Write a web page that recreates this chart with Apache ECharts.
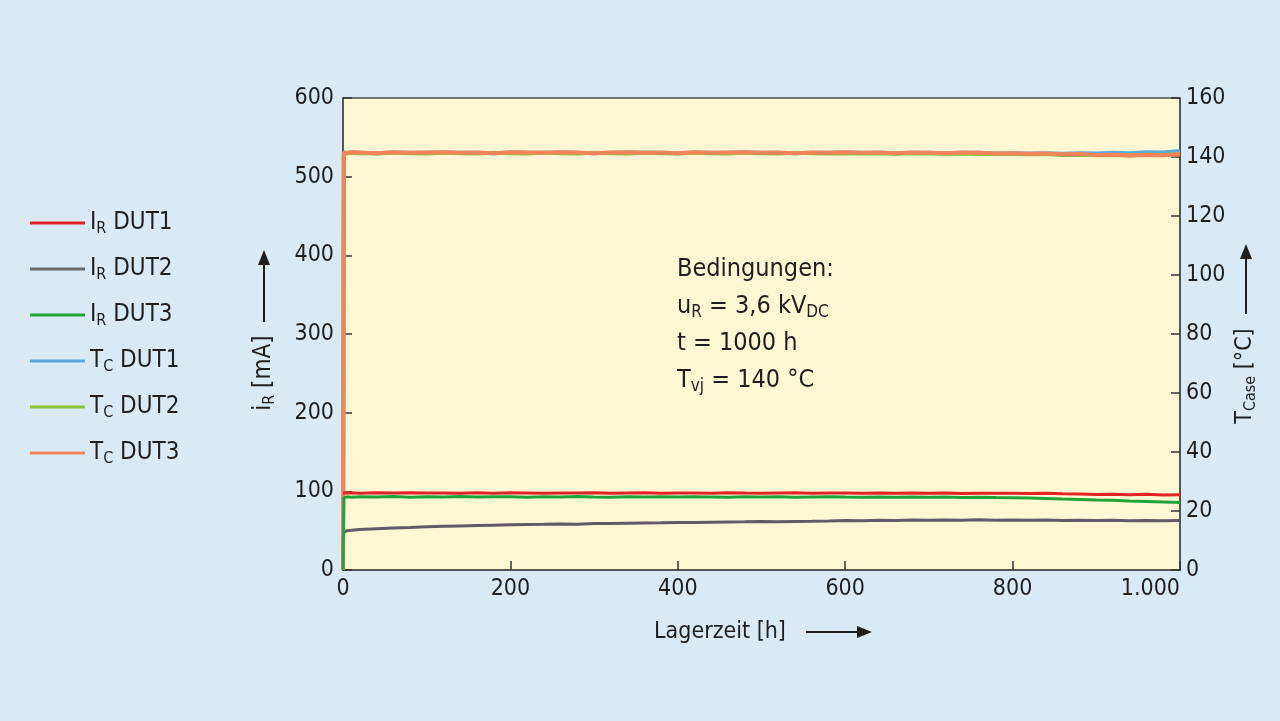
<!DOCTYPE html>
<html><head><meta charset="utf-8">
<script src="https://cdn.jsdelivr.net/npm/echarts@6/dist/echarts.min.js"></script>
<style>html,body{margin:0;padding:0;background:#d9eaf5;}#c{width:1280px;height:721px;}</style>
</head><body><div id="c"></div>
<script>
var FONT = "'Liberation Sans Narrow','DejaVu Sans Condensed','Roboto Condensed',sans-serif";
// time axis [h]
var times = [0,1,5,10,20,40,60,80,100,120,140,160,180,200,220,240,260,280,300,320,340,360,380,400,420,440,460,480,500,520,540,560,580,600,620,640,660,680,700,720,740,760,780,800,820,840,860,880,900,920,940,960,980,1000];
// reverse currents [mA]
var irDut1 = [98.0,98.5,98.0,98.2,97.6,98.1,97.8,98.3,97.9,98.0,97.5,98.2,97.7,98.1,97.9,97.6,98.0,97.8,98.2,97.7,97.9,98.1,97.6,97.9,98.0,97.7,98.2,97.8,97.6,97.9,98.1,97.7,97.9,97.8,97.5,97.9,97.7,98.0,97.6,97.8,97.4,97.7,97.5,97.6,97.3,97.5,96.9,96.5,96.0,96.4,95.6,96.2,95.3,95.8];
var irDut2 = [38.0,48.0,50.0,50.5,51.5,52.5,53.5,54.0,55.0,55.5,56.0,56.5,57.0,57.5,57.8,58.0,58.5,58.3,59.0,59.2,59.5,59.8,60.0,60.5,60.3,60.8,61.0,61.2,61.5,61.3,61.8,62.0,62.3,63.0,62.6,63.2,63.0,63.5,63.2,63.6,63.3,63.8,63.4,63.5,63.2,63.6,63.0,63.3,62.8,63.2,62.6,63.0,62.5,63.0];
var irDut3 = [0,92.0,93.0,92.5,93.2,92.8,93.4,92.6,93.1,92.9,93.3,92.7,93.0,93.2,92.6,93.1,92.8,93.3,92.9,92.6,93.2,92.8,93.0,92.7,93.1,92.9,92.5,93.0,92.8,93.2,92.6,92.9,93.1,92.7,92.5,92.9,92.6,92.8,92.4,92.7,92.3,92.6,92.2,92.0,91.5,91.0,90.2,89.6,89.0,88.6,87.8,87.2,86.5,85.8];
// case temperatures [°C]
var tcDut1 = [0,141.5,141.4,141.5,141.4,141.3,141.5,141.4,141.4,141.5,141.4,141.4,141.3,141.5,141.4,141.4,141.5,141.4,141.3,141.4,141.5,141.4,141.4,141.3,141.5,141.4,141.4,141.5,141.4,141.4,141.3,141.4,141.4,141.5,141.4,141.4,141.3,141.4,141.4,141.3,141.4,141.4,141.2,141.3,141.2,141.3,141.1,141.3,141.2,141.4,141.3,141.6,141.5,142.0];
var tcDut2 = [0,141.3,141.2,141.4,141.3,141.2,141.4,141.3,141.2,141.4,141.3,141.2,141.4,141.3,141.2,141.4,141.3,141.2,141.4,141.3,141.2,141.4,141.3,141.2,141.4,141.3,141.2,141.4,141.3,141.2,141.4,141.3,141.2,141.3,141.2,141.3,141.1,141.3,141.2,141.1,141.2,141.0,141.1,141.0,140.9,141.0,140.7,140.8,140.6,140.7,140.6,140.8,140.7,141.0];
var tcDut3 = [0,141.5,141.4,141.6,141.5,141.3,141.6,141.4,141.5,141.6,141.4,141.5,141.3,141.6,141.5,141.4,141.6,141.5,141.3,141.5,141.6,141.4,141.5,141.3,141.6,141.4,141.5,141.6,141.4,141.5,141.3,141.5,141.4,141.6,141.4,141.5,141.3,141.5,141.4,141.3,141.5,141.4,141.2,141.3,141.1,141.2,140.9,141.0,140.7,140.8,140.5,140.7,140.6,140.9];
var xTicks = [0,200,400,600,800,1000];
var seriesNames = ['IR DUT1','IR DUT2','IR DUT3','TC DUT1','TC DUT2','TC DUT3'];
var colors = ['#e52228','#625a66','#22a33a','#5aa8de','#8cc63f','#f2845c'];
var legendColors = ['#e52228','#6a6a6a','#22a33a','#5aa8de','#8cc63f','#f2845c'];

function pairs(v){ return times.map(function(t,i){ return [t, v[i]]; }); }
var legendLabel = {
  'IR DUT1':'I{s|R} DUT1','IR DUT2':'I{s|R} DUT2','IR DUT3':'I{s|R} DUT3',
  'TC DUT1':'T{s|C} DUT1','TC DUT2':'T{s|C} DUT2','TC DUT3':'T{s|C} DUT3'
};
var chart = echarts.init(document.getElementById('c'));
var txt = '#1e1e1e';
function arrow(x1,y1,x2,y2){
  var dx=x2-x1, dy=y2-y1, L=Math.sqrt(dx*dx+dy*dy), ux=dx/L, uy=dy/L, hl=15, hw=6;
  var bx=x2-ux*hl, by=y2-uy*hl;
  return [
    {type:'line', shape:{x1:x1,y1:y1,x2:bx,y2:by}, style:{stroke:txt,lineWidth:2}},
    {type:'polygon', shape:{points:[[x2,y2],[bx-uy*hw,by+ux*hw],[bx+uy*hw,by-ux*hw]]}, style:{fill:txt}}
  ];
}
var graphics = [].concat(
  arrow(264,322,264,250), arrow(1246,314,1246,244), arrow(806,632,872,632),
  [
  {type:'text', x:264, y:373, rotation:Math.PI/2, style:{text:'i{s|R} [mA]', font:'24px '+FONT, fill:txt, align:'center', verticalAlign:'middle', rich:{s:{fontSize:16, fontFamily:FONT, fill:txt, padding:[11,0,0,0]}}}},
  {type:'text', x:1245, y:376, rotation:Math.PI/2, style:{text:'T{s|Case} [°C]', font:'23px '+FONT, fill:txt, align:'center', verticalAlign:'middle', rich:{s:{fontSize:16, fontFamily:FONT, fill:txt, padding:[11,0,0,0]}}}},
  {type:'text', x:720, y:632, style:{text:'Lagerzeit [h]', font:'23px '+FONT, fill:txt, align:'center', verticalAlign:'middle'}},
  {type:'text', x:677, y:325, style:{
    text:'Bedingungen:\nu{s|R} = 3,6 kV{s|DC}\nt = 1000 h\nT{s|vj} = 140 °C',
    font:'25px '+FONT, fill:txt, align:'left', verticalAlign:'middle', lineHeight:37,
    rich:{s:{fontSize:17, fontFamily:FONT, fill:txt, padding:[12,0,0,0], lineHeight:37}}}}
  ]);

var series = seriesNames.map(function(n,i){
  var data = [irDut1,irDut2,irDut3,tcDut1,tcDut2,tcDut3][i];
  return {
    name:n, type:'line', yAxisIndex: i<3?0:1, data:pairs(data), showSymbol:false, symbol:'none',
    lineStyle:{width: i>=3?4:3, color:colors[i]}, itemStyle:{color:legendColors[i]},
    z: [4,2,3,2,2,3][i], animation:false
  };
});
// draw order: temperatures first, orange on top
series = [series[3],series[4],series[5],series[1],series[2],series[0]];

chart.setOption({
  backgroundColor:'#d9eaf5',
  animation:false,
  textStyle:{fontFamily:FONT},
  grid:{left:343, right:100, top:98, bottom:151, show:true, backgroundColor:'#fdf8d3', borderColor:'#4a4a4a', borderWidth:1.5},
  legend:{
    orient:'vertical', left:25, top:205, icon:'rect', itemWidth:55, itemHeight:3, itemGap:19.5,
    data:seriesNames,
    formatter:function(n){ return legendLabel[n]; },
    textStyle:{fontSize:24, color:txt, fontFamily:FONT, lineHeight:26, padding:[0,0,0,0], rich:{s:{fontSize:16, fontFamily:FONT, color:txt, padding:[11,0,0,0]}}}
  },
  xAxis:{
    type:'value', min:0, max:1000, interval:200,
    axisLine:{lineStyle:{color:'#4a4a4a', width:1.5}},
    axisTick:{inside:true, length:9, lineStyle:{color:'#333', width:1.5}},
    splitLine:{show:false},
    axisLabel:{fontSize:23, color:txt, margin:8, alignMaxLabel:'right',
      formatter:function(v){ return v===1000 ? '1.000' : String(v); }}
  },
  yAxis:[
    {type:'value', min:0, max:600, interval:100, position:'left',
     axisLine:{show:true, lineStyle:{color:'#4a4a4a', width:1.5}},
     axisTick:{show:true, inside:true, length:9, lineStyle:{color:'#333', width:1.5}},
     splitLine:{show:false},
     axisLabel:{fontSize:23, color:txt, margin:9}},
    {type:'value', min:0, max:160, interval:20, position:'right',
     axisLine:{show:true, lineStyle:{color:'#4a4a4a', width:1.5}},
     axisTick:{show:true, inside:true, length:9, lineStyle:{color:'#333', width:1.5}},
     splitLine:{show:false},
     axisLabel:{fontSize:23, color:txt, margin:6}}
  ],
  graphic:graphics,
  series:series
});
</script></body></html>
